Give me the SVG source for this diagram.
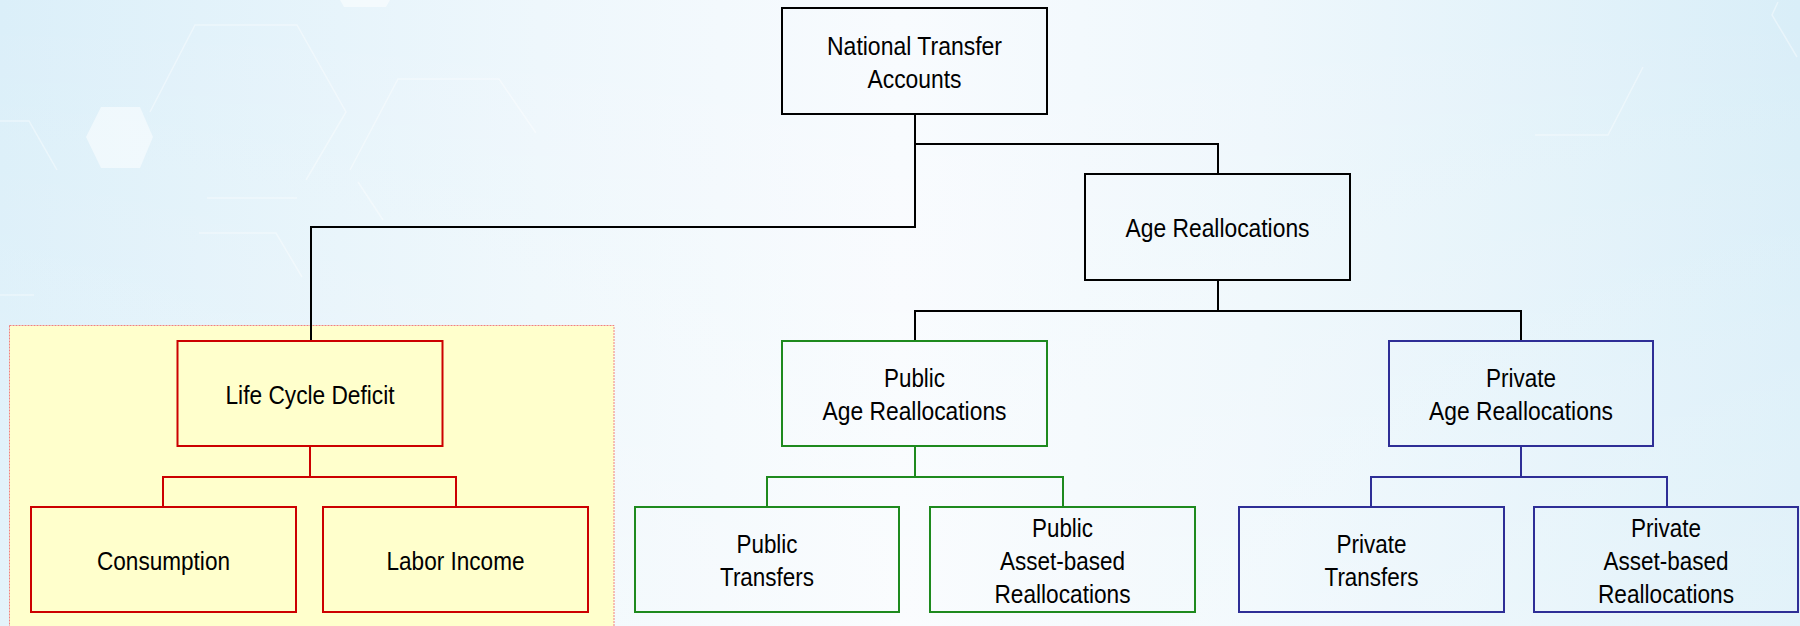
<svg xmlns="http://www.w3.org/2000/svg" width="1800" height="626" viewBox="0 0 1800 626">
  <defs>
    <linearGradient id="bg" x1="0" y1="0" x2="1" y2="0">
      <stop offset="0" stop-color="#dbeff9"/>
      <stop offset="0.3" stop-color="#eef7fc"/>
      <stop offset="0.5" stop-color="#f8fbfe"/>
      <stop offset="0.7" stop-color="#eef7fc"/>
      <stop offset="1" stop-color="#d9eef8"/>
    </linearGradient>
    <linearGradient id="bgv" x1="0" y1="0" x2="0" y2="1">
      <stop offset="0" stop-color="#ffffff" stop-opacity="0"/>
      <stop offset="1" stop-color="#ffffff" stop-opacity="0.25"/>
    </linearGradient>
    <style>
      .box { fill: none; stroke-width: 2; }
      .blk { stroke: #000000; }
      .red { stroke: #cc0000; }
      .grn { stroke: #1e8a1e; }
      .blu { stroke: #2e2e96; }
      .con { fill: none; stroke-width: 2; }
      .lbl { font-family: "Liberation Sans", Arial, sans-serif; font-size: 26px; fill: #000000; text-anchor: middle; }
      .hex { fill: none; stroke: #ffffff; stroke-width: 1.5; stroke-opacity: 0.4; }
    </style>
  </defs>

  <!-- background -->
  <rect x="0" y="0" width="1800" height="626" fill="url(#bg)"/>
  <rect x="0" y="0" width="1800" height="626" fill="url(#bgv)"/>
  <g id="decor">
    <path class="hex" d="M150,112 L195,25 L297,25 L346,112 L306,180"/>
    <path class="hex" d="M207,198 L297,198"/>
    <polygon points="101,107 140,107 153,137 140,168 101,168 86,137" fill="#ffffff" fill-opacity="0.5"/>
    <path class="hex" d="M350,170 L398,79 L499,79 L536,133"/>
    <path class="hex" d="M358,182 L383,220"/>
    <path class="hex" d="M0,121 L29,121 L57,170"/>
    <path class="hex" d="M0,295 L34,295"/>
    <path class="hex" d="M199,233 L276,233 L302,277"/>
    <polygon points="340,0 390,0 386,7 344,7" fill="#ffffff" fill-opacity="0.5"/>
    <path class="hex" d="M1535,135 L1608,135 L1643,67"/>
    <path class="hex" d="M1778,2 L1772,15 L1797,57"/>
  </g>

  <!-- highlighted region -->
  <rect id="lcd-region" x="9.5" y="325.5" width="604.5" height="310" fill="#ffffcc" stroke="#f08080" stroke-width="1" stroke-dasharray="2,1"/>

  <!-- connectors -->
  <g id="connectors">
    <path class="con blk" d="M915,114 V227 H311 V341"/>
    <path class="con blk" d="M915,144 H1218 V174"/>
    <path class="con blk" d="M1218,280 V311 M915,341 V311 H1521 V341"/>
    <path class="con red" d="M310,446 V477 M163,507 V477 H456 V507"/>
    <path class="con grn" d="M915,446 V477 M767,507 V477 H1063 V507"/>
    <path class="con blu" d="M1521,446 V477 M1371,507 V477 H1667 V507"/>
  </g>

  <g id="nta">
    <rect class="box blk" x="782" y="8" width="265" height="106"/>
    <text class="lbl" x="914.5" y="55" textLength="175" lengthAdjust="spacingAndGlyphs">National Transfer</text>
    <text class="lbl" x="914.5" y="88" textLength="94" lengthAdjust="spacingAndGlyphs">Accounts</text>
  </g>

  <g id="age-reallocations">
    <rect class="box blk" x="1085" y="174" width="265" height="106"/>
    <text class="lbl" x="1217.5" y="237" textLength="184" lengthAdjust="spacingAndGlyphs">Age Reallocations</text>
  </g>

  <g id="life-cycle-deficit">
    <rect class="box red" x="177.5" y="341" width="265" height="105"/>
    <text class="lbl" x="310" y="404" textLength="169" lengthAdjust="spacingAndGlyphs">Life Cycle Deficit</text>
  </g>

  <g id="consumption">
    <rect class="box red" x="31" y="507" width="265" height="105"/>
    <text class="lbl" x="163.5" y="570" textLength="133" lengthAdjust="spacingAndGlyphs">Consumption</text>
  </g>

  <g id="labor-income">
    <rect class="box red" x="323" y="507" width="265" height="105"/>
    <text class="lbl" x="455.5" y="570" textLength="138" lengthAdjust="spacingAndGlyphs">Labor Income</text>
  </g>

  <g id="public-age-reallocations">
    <rect class="box grn" x="782" y="341" width="265" height="105"/>
    <text class="lbl" x="914.5" y="387" textLength="61" lengthAdjust="spacingAndGlyphs">Public</text>
    <text class="lbl" x="914.5" y="420" textLength="184" lengthAdjust="spacingAndGlyphs">Age Reallocations</text>
  </g>

  <g id="public-transfers">
    <rect class="box grn" x="635" y="507" width="264" height="105"/>
    <text class="lbl" x="767" y="553" textLength="61" lengthAdjust="spacingAndGlyphs">Public</text>
    <text class="lbl" x="767" y="586" textLength="94" lengthAdjust="spacingAndGlyphs">Transfers</text>
  </g>

  <g id="public-asset-based">
    <rect class="box grn" x="930" y="507" width="265" height="105"/>
    <text class="lbl" x="1062.5" y="537" textLength="61" lengthAdjust="spacingAndGlyphs">Public</text>
    <text class="lbl" x="1062.5" y="570" textLength="125" lengthAdjust="spacingAndGlyphs">Asset-based</text>
    <text class="lbl" x="1062.5" y="603" textLength="136" lengthAdjust="spacingAndGlyphs">Reallocations</text>
  </g>

  <g id="private-age-reallocations">
    <rect class="box blu" x="1389" y="341" width="264" height="105"/>
    <text class="lbl" x="1521" y="387" textLength="70" lengthAdjust="spacingAndGlyphs">Private</text>
    <text class="lbl" x="1521" y="420" textLength="184" lengthAdjust="spacingAndGlyphs">Age Reallocations</text>
  </g>

  <g id="private-transfers">
    <rect class="box blu" x="1239" y="507" width="265" height="105"/>
    <text class="lbl" x="1371.5" y="553" textLength="70" lengthAdjust="spacingAndGlyphs">Private</text>
    <text class="lbl" x="1371.5" y="586" textLength="94" lengthAdjust="spacingAndGlyphs">Transfers</text>
  </g>

  <g id="private-asset-based">
    <rect class="box blu" x="1534" y="507" width="264" height="105"/>
    <text class="lbl" x="1666" y="537" textLength="70" lengthAdjust="spacingAndGlyphs">Private</text>
    <text class="lbl" x="1666" y="570" textLength="125" lengthAdjust="spacingAndGlyphs">Asset-based</text>
    <text class="lbl" x="1666" y="603" textLength="136" lengthAdjust="spacingAndGlyphs">Reallocations</text>
  </g>
</svg>
